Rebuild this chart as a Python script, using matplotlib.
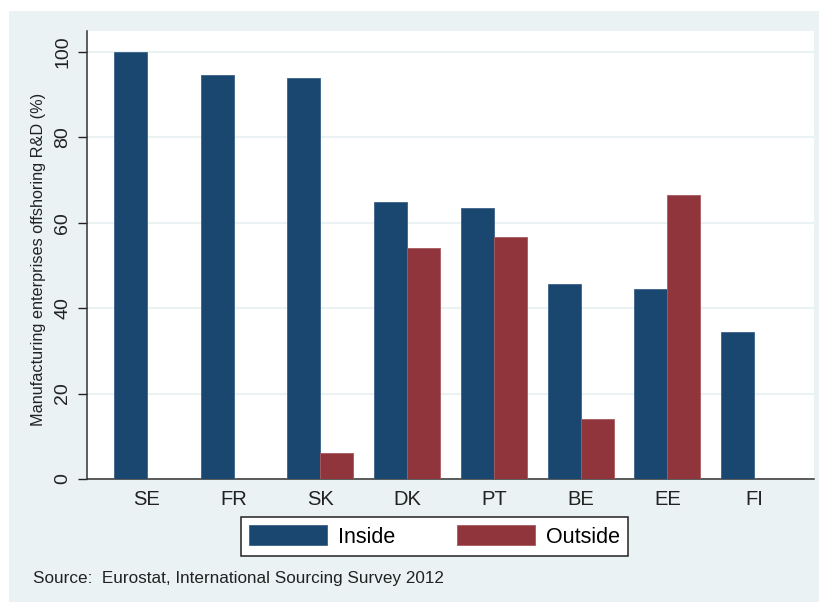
import matplotlib
matplotlib.use('Agg')
import matplotlib.pyplot as plt
import numpy as np
from matplotlib.patches import Rectangle

plt.rcParams['font.family'] = ['Liberation Sans', 'DejaVu Sans']

countries = ['SE', 'FR', 'SK', 'DK', 'PT', 'BE', 'EE', 'FI']
inside = [100, 94.7, 93.8, 64.8, 63.5, 45.6, 44.4, 34.5]
outside = [0, 0, 6.2, 54.0, 56.7, 14.1, 66.6, 0]

bg = '#eaf2f3'
navy = '#1a476f'
maroon = '#90353b'

fig = plt.figure(figsize=(8.2, 6.02), dpi=100, facecolor='white')
# stata-like outer background, small white border top/left
fig.patches.append(Rectangle((9 / 820, 0), 1, 1 - 11 / 602, transform=fig.transFigure,
                             facecolor=bg, edgecolor='none', zorder=-10))

ax = fig.add_axes([87 / 820, 1 - 479 / 602, (814 - 87) / 820, (479 - 31) / 602])
ax.set_facecolor('white')

x = np.arange(len(countries))
w = 0.38
ax.bar(x - w / 2, inside, w, color=navy, edgecolor='#3a6288', linewidth=0.6, label='Inside', zorder=3)
ax.bar(x + w / 2, outside, w, color=maroon, edgecolor='#a85a60', linewidth=0.6, label='Outside', zorder=3)

ax.set_xlim(-0.69, 7.69)
ax.set_ylim(0, 104.9)
ax.set_yticks([0, 20, 40, 60, 80, 100])
ax.set_xticks(x)
ax.set_xticklabels(countries)
ax.tick_params(axis='x', length=0, pad=8, labelsize=14.5, colors='#222222')
ax.tick_params(axis='y', length=6.5, width=1, pad=5, labelsize=14, colors='#222222')
for lab in ax.get_yticklabels():
    lab.set_rotation(90)
    lab.set_va('center')

ax.yaxis.grid(True, color=bg, linewidth=1.5, zorder=1)
ax.set_axisbelow(True)
for s in ['top', 'right']:
    ax.spines[s].set_visible(False)
for s in ['left', 'bottom']:
    ax.spines[s].set_color('#333333')
    ax.spines[s].set_linewidth(1.1)

ax.set_ylabel('Manufacturing enterprises offshoring R&D (%)', fontsize=11.7, color='#222222')
ax.yaxis.set_label_coords(-0.057, 0.49)

leg = fig.legend(loc='center', bbox_to_anchor=(434.5 / 820, 1 - 536.5 / 602), ncol=2,
                 fontsize=15.5, handlelength=3.6, handleheight=1.0, handletextpad=0.5,
                 columnspacing=2.9, borderpad=0.4, fancybox=False, framealpha=1,
                 edgecolor='#222222')
leg.get_frame().set_linewidth(1.1)

fig.text(33 / 820, 1 - 578 / 602, 'Source:  Eurostat, International Sourcing Survey 2012',
         fontsize=12.3, va='center', ha='left', color='#222222')

fig.savefig('out.png', dpi=100, facecolor='white')
